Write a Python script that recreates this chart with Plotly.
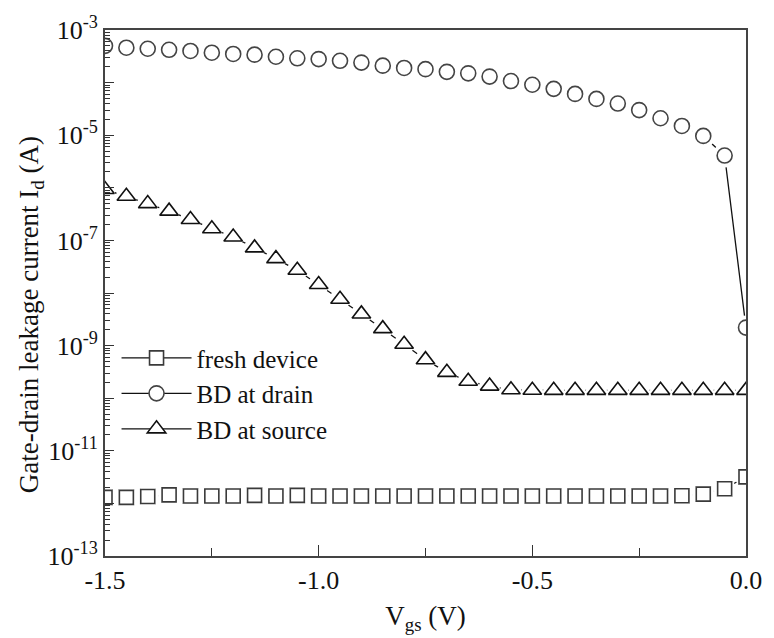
import plotly.graph_objects as go

# Gate voltage sweep (V)
vgs = [round(-1.5 + 0.05 * i, 2) for i in range(31)]

# Gate-drain leakage current (A)
fresh_device = [1.3e-12, 1.3e-12, 1.35e-12, 1.45e-12, 1.38e-12, 1.38e-12, 1.38e-12, 1.42e-12,
                1.38e-12, 1.42e-12, 1.38e-12, 1.38e-12, 1.38e-12, 1.38e-12, 1.38e-12, 1.38e-12,
                1.38e-12, 1.38e-12, 1.38e-12, 1.38e-12, 1.38e-12, 1.38e-12, 1.38e-12, 1.38e-12,
                1.38e-12, 1.38e-12, 1.38e-12, 1.4e-12, 1.5e-12, 1.9e-12, 3.2e-12]
bd_at_drain = [5.0e-4, 4.6e-4, 4.4e-4, 4.2e-4, 4.0e-4, 3.7e-4, 3.5e-4, 3.4e-4,
               3.1e-4, 2.9e-4, 2.8e-4, 2.6e-4, 2.4e-4, 2.1e-4, 1.9e-4, 1.8e-4,
               1.6e-4, 1.5e-4, 1.3e-4, 1.07e-4, 9.1e-5, 7.6e-5, 6.1e-5, 4.9e-5,
               4.0e-5, 3.0e-5, 2.1e-5, 1.5e-5, 9.7e-6, 4.1e-6, 2.2e-9]
bd_at_source = [9.3e-7, 6.9e-7, 5.0e-7, 3.6e-7, 2.5e-7, 1.67e-7, 1.16e-7, 7.2e-8,
                4.5e-8, 2.7e-8, 1.45e-8, 7.6e-9, 4.0e-9, 2.1e-9, 1.06e-9, 5.4e-10,
                3.1e-10, 2.1e-10, 1.7e-10, 1.45e-10, 1.42e-10, 1.41e-10, 1.41e-10, 1.41e-10,
                1.41e-10, 1.41e-10, 1.41e-10, 1.41e-10, 1.41e-10, 1.41e-10, 1.41e-10]

# Axis ticks
x_tickvals = [-1.5, -1.0, -0.5, 0.0]
x_ticktext = ["-1.5", "-1.0", "-0.5", "0.0"]
x_minor = [-1.25, -0.75, -0.25]
y_exponents = list(range(-13, -2))
y_tickvals = [10.0 ** e for e in y_exponents]
y_ticktext = [f"10<sup>{e}</sup>" if e % 2 else "" for e in y_exponents]
y_minor = [m * 10.0 ** e for e in range(-13, -3) for m in range(2, 10)]

FONT = "'Liberation Serif', 'Times New Roman', Times, serif"
LINE = "#111111"

series = [
    ("fresh device", fresh_device, "square", 14, "#3a3a3a", 22),
    ("BD at drain", bd_at_drain, "circle", 15, "#444444", 24),
    ("BD at source", bd_at_source, "triangle-up", 16, "#111111", 21),
]

fig = go.Figure()
# connecting lines with markers (legend entries)
for name, vals, sym, size, mcol, gap in series:
    fig.add_trace(go.Scatter(
        x=vgs, y=vals, name=name, mode="lines+markers",
        line=dict(color=LINE, width=1.3),
        marker=dict(symbol=sym, size=size, color="white",
                    line=dict(color=mcol, width=1.6)),
    ))
# white halo so the line stops short of each symbol
for name, vals, sym, size, mcol, gap in series:
    fig.add_trace(go.Scatter(
        x=vgs, y=vals, mode="markers", showlegend=False, hoverinfo="skip",
        marker=dict(symbol="circle", size=gap, color="white", line=dict(width=0)),
    ))
# symbols on top
for name, vals, sym, size, mcol, gap in series:
    fig.add_trace(go.Scatter(
        x=vgs, y=vals, mode="markers", showlegend=False, hoverinfo="skip",
        marker=dict(symbol=sym, size=size, color="white",
                    line=dict(color=mcol, width=1.6)),
    ))

fig.update_layout(
    width=774, height=638,
    margin=dict(l=105, r=21, t=29, b=82),
    paper_bgcolor="white", plot_bgcolor="white",
    font=dict(family=FONT, size=27, color="#111111"),
    showlegend=True,
    legend=dict(x=0.018, y=0.42, xanchor="left", yanchor="top",
                bgcolor="rgba(0,0,0,0)", font=dict(family=FONT, size=25),
                itemwidth=70, tracegroupgap=0),
    annotations=[dict(
        text="Gate-drain leakage current I<sub>d</sub> (A)",
        xref="paper", yref="paper", x=-0.116, y=0.459,
        xanchor="center", yanchor="middle", textangle=-90, showarrow=False,
        font=dict(family=FONT, size=27, color="#111111"),
    )],
)
fig.update_xaxes(
    range=[-1.5, 0.0], tickvals=x_tickvals, ticktext=x_ticktext,
    ticks="inside", ticklen=11, tickwidth=1.2, tickcolor="#333333",
    minor=dict(tickvals=x_minor, ticks="inside", ticklen=8, tickwidth=1.2,
               tickcolor="#333333", showgrid=False),
    showline=True, linecolor="#444444", linewidth=2, mirror=True,
    showgrid=False, zeroline=False,
    tickfont=dict(family=FONT, size=26),
    title=dict(text="V<sub>gs</sub> (V)", font=dict(family=FONT, size=27), standoff=12),
)
fig.update_yaxes(
    type="log", range=[-13, -3], tickvals=y_tickvals, ticktext=y_ticktext,
    ticks="inside", ticklen=9, tickwidth=1.2, tickcolor="#333333",
    minor=dict(tickvals=y_minor, ticks="inside", ticklen=5, tickcolor="#333333", showgrid=False),
    showline=True, linecolor="#444444", linewidth=2, mirror=True,
    showgrid=False, zeroline=False,
    tickfont=dict(family=FONT, size=26),
)

fig.write_html("out.html")
